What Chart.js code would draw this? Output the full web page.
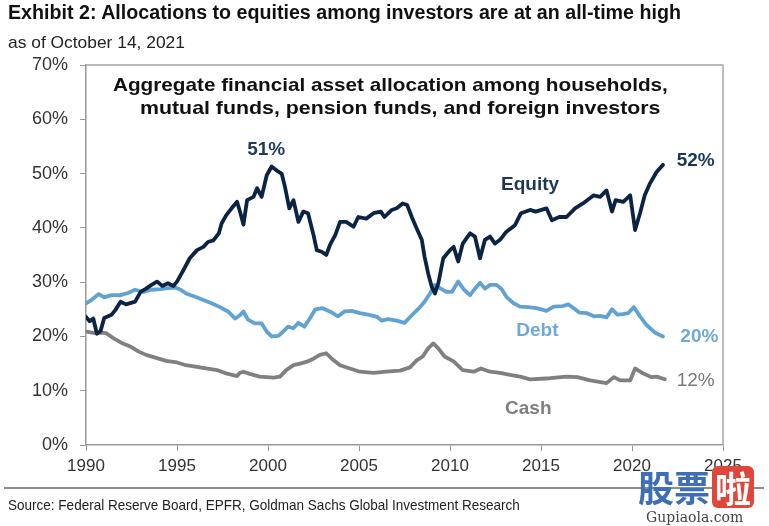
<!DOCTYPE html>
<html>
<head>
<meta charset="utf-8">
<script src="https://cdn.jsdelivr.net/npm/chart.js@4"></script>
<style>
    body { margin: 0; width: 769px; height: 526px; background: #fff; position: relative; overflow: hidden; font-family: "Liberation Sans", Arial, sans-serif; }
    #chart { position: absolute; left: 0; top: 0; }
    .txt { position: absolute; white-space: nowrap; transform-origin: 0 0; line-height: 1; color: #111; }
    .rule { position: absolute; left: 4px; width: 760px; top: 487px; height: 0; border-top: 2px solid #8c8c8c; }
    .wm { position: absolute; font-family: "Noto Sans CJK SC", sans-serif; font-weight: bold; font-size: 36px; line-height: 1; }
</style>
</head>
<body>
<canvas id="chart" width="769" height="526"></canvas>

<div class="txt" id="title" style="left:8px;top:2px;font-size:20px;font-weight:bold">Exhibit 2: Allocations to equities among investors are at an all-time high</div>
<div class="txt" id="subtitle" style="left:8px;top:34px;font-size:17px;color:#222">as of October 14, 2021</div>
<div class="txt" id="inner1" style="left:113px;top:75px;font-size:19px;font-weight:bold">Aggregate financial asset allocation among households,</div>
<div class="txt" id="inner2" style="left:140px;top:98px;font-size:19px;font-weight:bold">mutual funds, pension funds, and foreign investors</div>
<div class="rule"></div>
<div class="txt" id="source" style="left:8px;top:497px;font-size:15px;color:#222">Source: Federal Reserve Board, EPFR, Goldman Sachs Global Investment Research</div>

<!-- site watermark -->
<div class="wm" style="left:638px;top:468px;color:#3d6fb6">股票</div>
<div class="wm" style="left:712px;top:466px;width:42px;height:42px;background:#e0473c;color:#fff;border-radius:6px;text-align:center;line-height:42px">啦</div>
<div class="txt" style="left:646px;top:510px;font-size:14px;font-family:'DejaVu Serif',serif;color:#444">Gupiaola.com</div>

<script>
// Series (year, percent of assets)
const equityYears = [1990.0, 1990.2, 1990.4, 1990.6, 1990.8, 1991.0, 1991.4, 1991.6, 1991.9, 1992.2, 1992.7, 1993.0, 1993.3, 1993.6, 1993.9, 1994.2, 1994.5, 1994.8, 1995.0, 1995.35, 1995.7, 1996.1, 1996.45, 1996.7, 1997.0, 1997.3, 1997.45, 1997.7, 1998.0, 1998.3, 1998.46, 1998.65, 1998.85, 1999.2, 1999.4, 1999.65, 1999.93, 2000.2, 2000.55, 2000.75, 2000.93, 2001.17, 2001.4, 2001.67, 2001.94, 2002.2, 2002.5, 2002.68, 2002.95, 2003.2, 2003.4, 2003.7, 2003.96, 2004.3, 2004.7, 2004.96, 2005.4, 2005.8, 2006.2, 2006.4, 2006.8, 2007.07, 2007.4, 2007.65, 2007.9, 2008.17, 2008.45, 2008.6, 2008.8, 2009.0, 2009.17, 2009.36, 2009.63, 2010.0, 2010.2, 2010.45, 2010.7, 2011.1, 2011.37, 2011.65, 2011.92, 2012.2, 2012.47, 2012.75, 2013.1, 2013.57, 2013.9, 2014.4, 2014.7, 2015.3, 2015.6, 2016.0, 2016.4, 2016.87, 2017.3, 2017.9, 2018.25, 2018.6, 2018.9, 2019.1, 2019.52, 2019.9, 2020.17, 2020.44, 2020.7, 2020.99, 2021.35, 2021.7];
const equityValues = [23.6, 22.8, 23.3, 20.5, 21.0, 23.4, 24.0, 24.8, 26.4, 25.9, 26.4, 28.2, 28.8, 29.5, 30.1, 29.3, 29.8, 29.3, 30.1, 32.2, 34.4, 35.9, 36.5, 37.4, 37.7, 39.0, 40.8, 42.3, 43.6, 44.8, 43.0, 40.6, 45.1, 45.7, 47.3, 45.7, 49.7, 51.3, 50.4, 50.0, 47.6, 43.6, 45.1, 41.1, 43.0, 42.7, 38.7, 35.9, 35.6, 35.0, 36.8, 38.7, 41.1, 41.1, 40.2, 42.0, 41.7, 42.7, 43.0, 42.0, 43.3, 43.6, 44.5, 44.2, 42.0, 39.9, 37.8, 34.7, 31.6, 29.1, 27.9, 29.8, 34.4, 35.9, 36.5, 33.8, 37.1, 39.0, 38.4, 34.4, 37.8, 38.4, 37.1, 37.8, 39.3, 40.5, 42.7, 43.3, 43.0, 43.6, 41.4, 42.0, 42.0, 43.6, 44.5, 46.0, 45.7, 46.9, 43.0, 45.1, 44.8, 46.0, 39.6, 42.7, 46.0, 48.2, 50.3, 51.6];

const debtYears = [1990.0, 1990.3, 1990.7, 1991.0, 1991.4, 1991.9, 1992.3, 1992.7, 1993.15, 1993.6, 1994.1, 1994.5, 1994.9, 1995.2, 1995.5, 1996.0, 1996.45, 1996.9, 1997.36, 1997.8, 1998.2, 1998.46, 1998.65, 1998.9, 1999.28, 1999.65, 1999.93, 2000.2, 2000.57, 2000.84, 2001.1, 2001.39, 2001.67, 2002.0, 2002.3, 2002.6, 2003.0, 2003.4, 2003.85, 2004.2, 2004.6, 2005.05, 2005.5, 2006.0, 2006.25, 2006.6, 2007.07, 2007.5, 2007.9, 2008.3, 2008.6, 2008.9, 2009.17, 2009.45, 2009.8, 2010.1, 2010.45, 2010.8, 2011.1, 2011.37, 2011.65, 2011.92, 2012.2, 2012.56, 2012.84, 2013.1, 2013.5, 2013.85, 2014.3, 2014.75, 2015.3, 2015.7, 2016.2, 2016.5, 2016.8, 2017.1, 2017.5, 2017.9, 2018.25, 2018.6, 2018.9, 2019.2, 2019.5, 2019.8, 2020.1, 2020.44, 2020.8, 2021.26, 2021.7];
const debtValues = [26.1, 26.7, 27.8, 27.2, 27.6, 27.6, 28.0, 28.6, 28.2, 28.6, 28.7, 28.9, 29.0, 28.6, 27.9, 27.3, 26.7, 26.1, 25.4, 24.6, 23.3, 23.9, 24.6, 23.1, 22.4, 22.4, 20.9, 20.0, 20.1, 20.9, 21.8, 21.5, 22.5, 21.8, 23.3, 25.0, 25.2, 24.6, 23.7, 24.6, 24.7, 24.3, 24.0, 23.6, 22.9, 23.2, 22.9, 22.5, 23.9, 25.2, 26.4, 27.9, 29.5, 28.9, 28.2, 28.2, 30.1, 28.5, 27.6, 28.8, 29.9, 28.8, 29.5, 29.5, 28.7, 27.3, 26.1, 25.5, 25.4, 25.2, 24.7, 25.5, 25.6, 25.9, 25.2, 24.4, 24.3, 23.7, 23.8, 23.5, 25.0, 24.0, 24.1, 24.3, 25.4, 23.7, 22.1, 20.7, 20.0];

const cashYears = [1990.0, 1990.5, 1990.8, 1991.1, 1991.5, 1991.96, 1992.4, 1992.9, 1993.3, 1993.9, 1994.4, 1995.0, 1995.5, 1996.1, 1996.6, 1997.2, 1997.7, 1998.3, 1998.46, 1998.65, 1999.0, 1999.55, 2000.3, 2000.66, 2001.0, 2001.4, 2001.76, 2002.1, 2002.5, 2002.85, 2003.2, 2003.5, 2003.96, 2004.5, 2005.05, 2005.8, 2006.5, 2007.25, 2007.8, 2008.17, 2008.5, 2008.8, 2009.08, 2009.36, 2009.7, 2010.2, 2010.7, 2011.3, 2011.7, 2012.2, 2012.75, 2013.3, 2013.85, 2014.4, 2015.5, 2016.4, 2017.0, 2017.7, 2018.6, 2019.0, 2019.35, 2019.9, 2020.17, 2020.6, 2021.08, 2021.36, 2021.8];
const cashValues = [20.9, 20.6, 20.7, 20.6, 19.7, 18.8, 18.2, 17.2, 16.6, 16.0, 15.5, 15.2, 14.7, 14.4, 14.1, 13.8, 13.2, 12.7, 13.3, 13.5, 13.1, 12.6, 12.4, 12.6, 13.8, 14.7, 15.0, 15.3, 15.9, 16.6, 16.9, 15.9, 14.7, 14.1, 13.5, 13.3, 13.5, 13.7, 14.3, 15.6, 16.3, 17.8, 18.7, 17.8, 16.3, 15.4, 13.8, 13.5, 14.1, 13.5, 13.3, 12.9, 12.6, 12.1, 12.3, 12.6, 12.5, 11.9, 11.4, 12.5, 11.9, 11.9, 14.1, 13.2, 12.5, 12.6, 12.1];

// Axis ticks
const yearTicks = [1990, 1995, 2000, 2005, 2010, 2015, 2020, 2025];
const percentTicks = [0, 10, 20, 30, 40, 50, 60, 70];

// In-chart labels, placed in data units
const noteTexts = ['Equity', 'Debt', 'Cash', '51%', '52%', '20%', '12%'];
const noteYears = [2014.4, 2014.8, 2014.3, 1999.9, 2023.5, 2023.7, 2023.5];
const noteValues = [47.9, 21.0, 6.6, 54.3, 52.4, 19.9, 11.8];

const EQUITY = '#0c2444';
const DEBT = '#62a2d3';
const CASH = '#808080';
const noteColors = ['#1c3856', '#6ea9d8', '#7f7f7f', '#1e3c5e', '#1c3856', '#6ea9d8', '#7a7a7a'];
const noteBold = [true, true, true, true, true, true, false];

function toPoints(xs, ys) {
    return xs.map((x, i) => ({ x: x, y: ys[i] }));
}

// Squeeze the html text blocks to the widths seen in the picture
function fit(id, w) {
    const el = document.getElementById(id);
    el.style.transform = 'scaleX(' + (w / el.offsetWidth) + ')';
}
fit('title', 673);
fit('subtitle', 177);
fit('inner1', 555);
fit('inner2', 520);
fit('source', 512);

// Grey box round the plot (top and right edges)
const framePlugin = {
    id: 'frame',
    afterDraw(chart) {
        const { ctx, chartArea } = chart;
        ctx.save();
        ctx.strokeStyle = '#a6a6a6';
        ctx.lineWidth = 1.5;
        ctx.beginPath();
        ctx.moveTo(chartArea.left, chartArea.top);
        ctx.lineTo(chartArea.right, chartArea.top);
        ctx.lineTo(chartArea.right, chartArea.bottom);
        ctx.stroke();
        ctx.restore();
    }
};

// Series names and end values written next to the lines
const notesPlugin = {
    id: 'notes',
    afterDatasetsDraw(chart) {
        const { ctx, scales } = chart;
        ctx.save();
        ctx.textAlign = 'center';
        ctx.textBaseline = 'middle';
        noteTexts.forEach((t, i) => {
            ctx.font = (noteBold[i] ? 'bold ' : '') + '19px "Liberation Sans", Arial, sans-serif';
            ctx.fillStyle = noteColors[i];
            ctx.fillText(t, scales.x.getPixelForValue(noteYears[i]), scales.y.getPixelForValue(noteValues[i]));
        });
        ctx.restore();
    }
};

const lineStyle = { borderWidth: 3.8, pointRadius: 0, tension: 0, borderJoinStyle: 'round', borderCapStyle: 'round' };

new Chart(document.getElementById('chart'), {
    type: 'line',
    data: {
        datasets: [
            { label: 'Equity', data: toPoints(equityYears, equityValues), borderColor: EQUITY, ...lineStyle },
            { label: 'Debt', data: toPoints(debtYears, debtValues), borderColor: DEBT, ...lineStyle },
            { label: 'Cash', data: toPoints(cashYears, cashValues), borderColor: CASH, ...lineStyle }
        ]
    },
    options: {
        responsive: false,
        animation: false,
        devicePixelRatio: 1,
        layout: { padding: { top: 65, right: 46, bottom: 41, left: 0 } },
        plugins: { legend: { display: false }, tooltip: { enabled: false } },
        scales: {
            x: {
                type: 'linear',
                min: yearTicks[0],
                max: yearTicks[yearTicks.length - 1],
                afterBuildTicks: scale => { scale.ticks = yearTicks.map(v => ({ value: v })); },
                afterFit: scale => { scale.height = 40; },
                grid: { drawOnChartArea: false, drawTicks: true, tickLength: 6, color: '#999' },
                border: { display: true, color: '#999', width: 1.5 },
                ticks: { callback: v => String(v), color: '#333', padding: 5, maxRotation: 0, font: { size: 17, family: '"Liberation Sans", Arial, sans-serif' } }
            },
            y: {
                min: 0,
                max: 70,
                afterBuildTicks: scale => { scale.ticks = percentTicks.map(v => ({ value: v })); },
                afterFit: scale => { scale.width = 86; },
                grid: { drawOnChartArea: false, drawTicks: true, tickLength: 6, color: '#999' },
                border: { display: true, color: '#999', width: 1.5 },
                ticks: { callback: v => v + '%', color: '#333', padding: 12, font: { size: 18, family: '"Liberation Sans", Arial, sans-serif' } }
            }
        }
    },
    plugins: [framePlugin, notesPlugin]
});
</script>
</body>
</html>
